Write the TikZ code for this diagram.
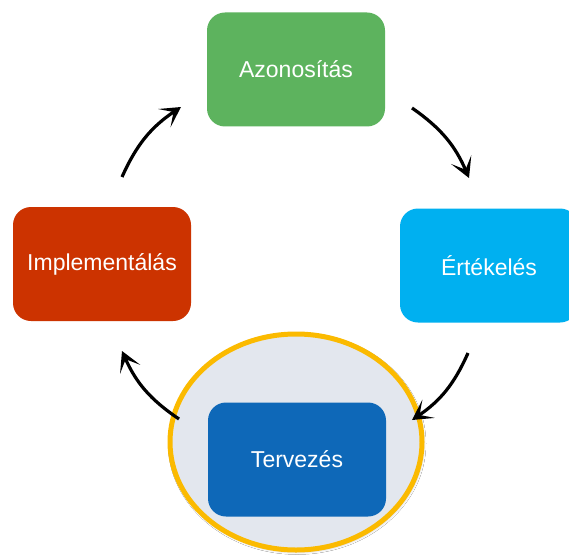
\documentclass[tikz,border=0pt]{standalone}
\usepackage{fontspec}
\setmainfont{Liberation Sans}
\usetikzlibrary{shapes.geometric,arrows.meta,shadows.blur}
\definecolor{cgreen}{HTML}{5DB35E}
\definecolor{cblue}{HTML}{00B0F0}
\definecolor{cred}{HTML}{CC3300}
\definecolor{cdark}{HTML}{0E68B8}
\definecolor{cgold}{HTML}{FBBA00}
\definecolor{cfill}{HTML}{E3E7EE}
\tikzset{
  stagebox/.style={rectangle, rounded corners=18pt, minimum width=178pt, minimum height=114pt, inner sep=0pt, text=white, font=\fontsize{23}{27}\selectfont},
  cyclearrow/.style={line width=3.2pt, -{Stealth[length=20pt, width=22pt, inset=11pt]}, bend left=16},
}
\begin{document}
\begin{tikzpicture}[x=1pt,y=1pt]
\clip (0,0) rectangle (569,-556);
\fill[white] (0,0) rectangle (569,-556);
\node[ellipse, draw=cgold, fill=cfill, line width=5pt, minimum width=252pt, minimum height=216pt, inner sep=0pt, blur shadow={shadow xshift=1pt, shadow yshift=-1.5pt, shadow blur radius=3pt, shadow opacity=30}] (focus) at (296,-442) {};
\node[stagebox, fill=cgreen] (azon) at (296,-69.5) {Azonosítás};
\node[stagebox, fill=cblue] (ert) at (489,-265.5) {Értékelés};
\node[stagebox, fill=cred] (impl) at (102,-264) {Implementálás};
\node[stagebox, fill=cdark] (terv) at (297,-459.5) {Tervezés};
\coordinate (a1s) at (122,-177);
\coordinate (a1e) at (181,-107);
\coordinate (a2s) at (412,-108);
\coordinate (a2e) at (469,-178);
\coordinate (a3s) at (468,-353);
\coordinate (a3e) at (412,-420);
\coordinate (a4s) at (179,-419);
\coordinate (a4e) at (122,-351);
\draw[cyclearrow] (a1s) to (a1e);
\draw[cyclearrow] (a2s) to (a2e);
\draw[cyclearrow] (a3s) to (a3e);
\draw[cyclearrow] (a4s) to (a4e);
\end{tikzpicture}
\end{document}
